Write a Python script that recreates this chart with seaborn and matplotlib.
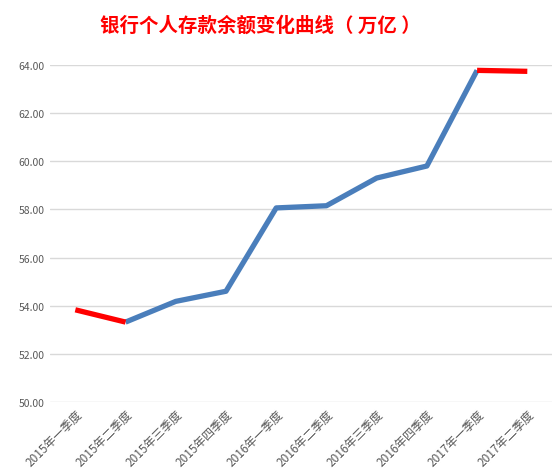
import pandas as pd
import matplotlib
matplotlib.use("Agg")
import matplotlib.pyplot as plt
import seaborn as sns

quarters = ["2015年一季度", "2015年二季度", "2015年三季度", "2015年四季度",
            "2016年一季度", "2016年二季度", "2016年三季度", "2016年四季度",
            "2017年一季度", "2017年二季度"]
deposits = [53.83, 53.32, 54.18, 54.60, 58.06, 58.15, 59.30, 59.80, 63.77, 63.73]
# segments drawn in red: (start index, end index)
red_segments = [(0, 1), (8, 9)]
blue_segment = (1, 8)

sns.set_theme(style="white")
plt.rcParams['font.family'] = ['Noto Sans CJK SC', 'DejaVu Sans']

df = pd.DataFrame({"pos": range(len(quarters)), "quarter": quarters, "value": deposits})

fig = plt.figure(figsize=(5.58, 4.77), dpi=100)
ax = fig.add_axes([0.09, 0.155, 0.90, 0.707])

a, b = blue_segment
sns.lineplot(data=df.iloc[a:b + 1], x="pos", y="value", color="#4A7EBB",
             linewidth=3.8, ax=ax, solid_capstyle="butt")
for a, b in red_segments:
    sns.lineplot(data=df.iloc[a:b + 1], x="pos", y="value", color="#FF0000",
                 linewidth=3.8, ax=ax, solid_capstyle="butt")

ax.set_xlim(-0.5, len(quarters) - 0.5)
ax.set_ylim(50, 64)
ax.set_yticks(range(50, 65, 2))
ax.set_yticklabels([f"{v:.2f}" for v in range(50, 65, 2)], color="#595959", fontsize=7.5)
ax.set_xticks(df["pos"])
ax.set_xticklabels(quarters, rotation=45, ha="right", rotation_mode="anchor",
                   color="#595959", fontsize=8.5)
ax.tick_params(axis="both", length=0, pad=4)
ax.grid(axis="y", color="#D9D9D9", linewidth=1)
ax.set_axisbelow(True)
for s in ax.spines.values():
    s.set_visible(False)
ax.set_xlabel("")
ax.set_ylabel("")

fig.text(0.467, 0.945, "银行个人存款余额变化曲线（ 万亿 ）", color="#FF0000",
         fontsize=14, fontweight="bold", ha="center", va="center")

fig.savefig("out.png", dpi=100)
